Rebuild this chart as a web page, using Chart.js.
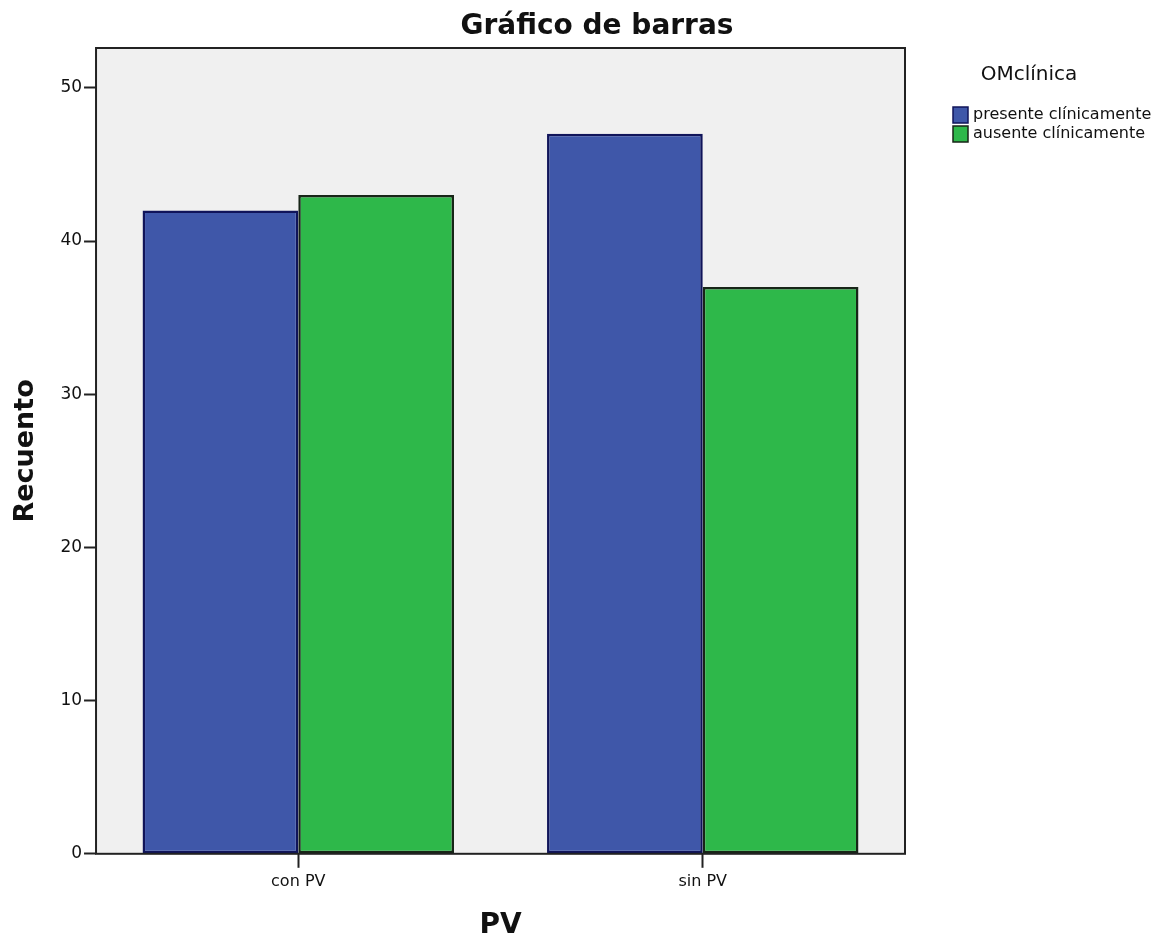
<!DOCTYPE html>
<html>
<head>
<meta charset="utf-8">
<script src="https://cdn.jsdelivr.net/npm/chart.js@4.4.1/dist/chart.umd.min.js"></script>
<style>
  html, body { margin: 0; padding: 0; background: #fff; }
  #wrap { width: 1167px; height: 951px; position: relative; }
</style>
</head>
<body>
<div id="wrap"><canvas id="chart"></canvas></div>
<script>
// data
const categories = ['con PV', 'sin PV'];
const presente = [42, 47];
const ausente = [43, 37];
const seriesNames = ['presente clínicamente', 'ausente clínicamente'];
const yTicks = [0, 10, 20, 30, 40, 50];

const FONT = '"DejaVu Sans", Verdana, sans-serif';

// grey plot background and frame around the plot area
const plotFrame = {
    id: 'plotFrame',
    beforeDatasetsDraw(chart) {
        const { ctx, chartArea: a } = chart;
        ctx.save();
        ctx.fillStyle = '#f0f0f0';
        ctx.fillRect(a.left, a.top, a.right - a.left, a.bottom - a.top);
        ctx.restore();
    },
    afterDatasetsDraw(chart) {
        const { ctx, chartArea: a } = chart;
        ctx.save();
        ctx.strokeStyle = '#222';
        ctx.lineWidth = 2;
        ctx.strokeRect(a.left, a.top, a.right - a.left, a.bottom - a.top);
        ctx.restore();
    }
};

// title, x axis title and legend, placed like the SPSS output
const titleAndLegend = {
    id: 'titleAndLegend',
    afterDraw(chart) {
        const { ctx, chartArea: a } = chart;
        ctx.save();
        ctx.fillStyle = '#111';
        ctx.textAlign = 'center';
        ctx.textBaseline = 'middle';
        ctx.font = 'bold 28px ' + FONT;
        ctx.fillText('Gráfico de barras', 597, 27);
        ctx.font = 'bold 28px ' + FONT;
        ctx.fillText('PV', (a.left + a.right) / 2, 926);
        ctx.font = '20px ' + FONT;
        ctx.fillText('OMclínica', 1029, 75);
        ctx.font = '16px ' + FONT;
        ctx.textAlign = 'left';
        chart.data.datasets.forEach((ds, i) => {
            const y = 107 + i * 19;
            ctx.fillStyle = ds.backgroundColor;
            ctx.fillRect(953, y, 15, 16);
            ctx.strokeStyle = ds.borderColor;
            ctx.lineWidth = 1.5;
            ctx.strokeRect(953, y, 15, 16);
            ctx.fillStyle = '#111';
            ctx.fillText(ds.label, 973, y + 8);
        });
        ctx.restore();
    }
};

new Chart(document.getElementById('chart'), {
    type: 'bar',
    data: {
        labels: categories,
        datasets: [{
            label: seriesNames[0],
            data: presente,
            backgroundColor: '#3f57a9',
            borderColor: '#10145a',
            borderWidth: 2.5,
            borderSkipped: false,
            categoryPercentage: 0.77,
            barPercentage: 1.0
        }, {
            label: seriesNames[1],
            data: ausente,
            backgroundColor: '#2eb84a',
            borderColor: '#172517',
            borderWidth: 2.5,
            borderSkipped: false,
            categoryPercentage: 0.77,
            barPercentage: 1.0
        }]
    },
    options: {
        responsive: true,
        maintainAspectRatio: false,
        animation: false,
        layout: {
            padding: { top: 48, right: 262, bottom: 56, left: 6 }
        },
        plugins: {
            legend: { display: false },
            tooltip: { enabled: false },
            title: { display: false }
        },
        scales: {
            x: {
                grid: {
                    offset: false,
                    drawOnChartArea: false,
                    drawTicks: true,
                    tickLength: 14,
                    tickWidth: 2,
                    color: '#222'
                },
                border: { display: false },
                ticks: {
                    color: '#111',
                    padding: 4,
                    font: { family: FONT, size: 16 }
                }
            },
            y: {
                min: 0,
                max: 52.6,
                afterBuildTicks(scale) {
                    scale.ticks = yTicks.map(v => ({ value: v }));
                },
                grid: {
                    drawOnChartArea: false,
                    drawTicks: true,
                    tickLength: 12,
                    tickWidth: 2,
                    color: '#222'
                },
                border: { display: false },
                ticks: {
                    color: '#111',
                    padding: 2,
                    font: { family: FONT, size: 17 }
                },
                title: {
                    display: true,
                    text: 'Recuento',
                    color: '#111',
                    font: { family: FONT, size: 27, weight: 'bold' },
                    padding: { bottom: 16 }
                }
            }
        }
    },
    plugins: [plotFrame, titleAndLegend]
});
</script>
</body>
</html>
